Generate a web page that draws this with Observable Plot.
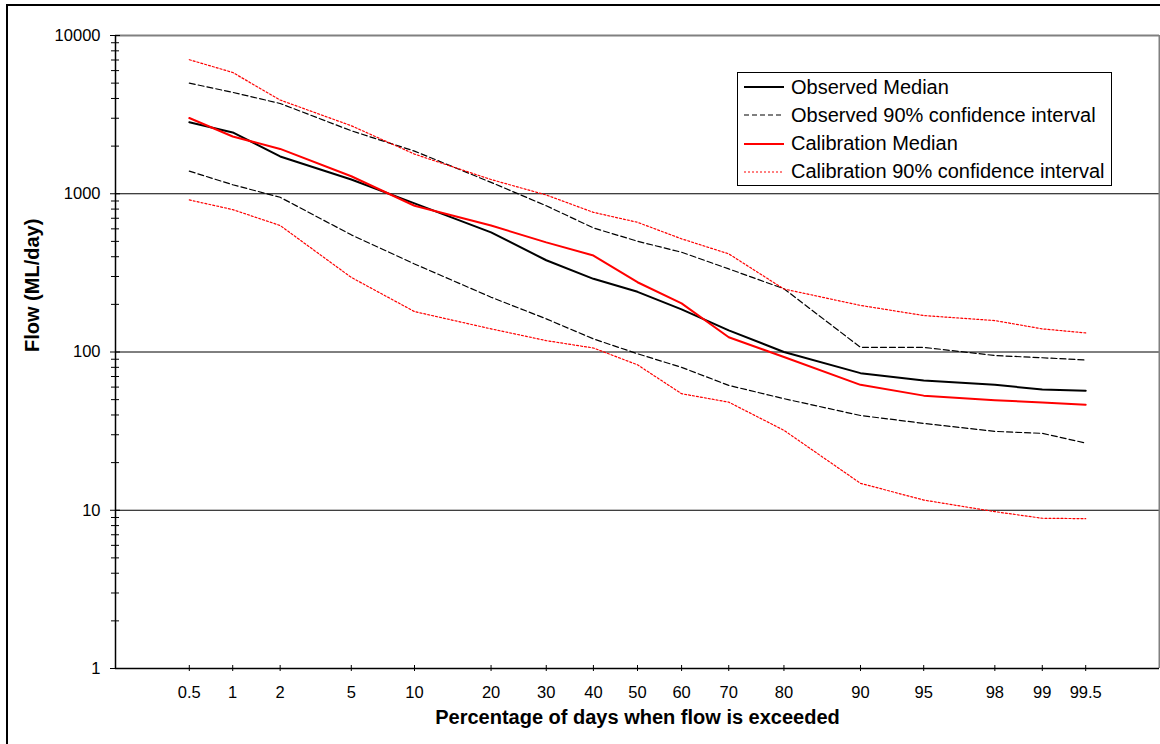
<!DOCTYPE html>
<html>
<head>
<meta charset="utf-8">
<script src="https://cdn.jsdelivr.net/npm/d3@7"></script>
<script src="https://cdn.jsdelivr.net/npm/@observablehq/plot@0.6"></script>
<style>
  html, body { margin: 0; padding: 0; background: #fff; }
  #wrap { position: relative; width: 1160px; height: 744px; overflow: hidden;
          font-family: "Liberation Sans", Arial, sans-serif; }
  #wrap > #chart svg { position: absolute; left: 0; top: 0; }
  #frame { position: absolute; left: 6px; top: 4px; width: 1200px; height: 800px;
           border-left: 2px solid #000; border-top: 2px solid #000; pointer-events: none; }
  #legend { position: absolute; left: 737px; top: 72px; width: 373px; height: 112px;
            border: 1px solid #000; background: #fff; font-size: 20px; color: #000; }
  #legend .row { position: absolute; left: 0; height: 28px; display: flex; align-items: center; white-space: nowrap; }
  #legend svg { display: block; margin-left: 6px; margin-right: 7px; }
</style>
</head>
<body>
<div id="wrap">
  <div id="chart"></div>
  <div id="legend"></div>
  <div id="frame"></div>
</div>
<script>
// Flow duration curve: percentage of days when flow is exceeded (probability axis)
const exceedance = [0.5, 1, 2, 5, 10, 20, 30, 40, 50, 60, 70, 80, 90, 95, 98, 99, 99.5];
const exceedanceLabels = ["0.5", "1", "2", "5", "10", "20", "30", "40", "50", "60", "70", "80", "90", "95", "98", "99", "99.5"];

// Flow (ML/day) at each exceedance percentage
const observedMedian = [2830, 2440, 1720, 1230, 870, 570, 380, 290, 240, 186, 137, 100, 73.5, 66, 62, 58, 57];
const observedLower  = [1390, 1140, 950, 550, 360, 222, 162, 121, 97.5, 80, 61.5, 50.7, 39.7, 35.4, 31.5, 30.6, 26.6];
const observedUpper  = [5000, 4370, 3720, 2500, 1860, 1180, 840, 608, 501, 427, 335, 251, 107, 107, 95, 92, 89];
const calibMedian    = [3010, 2300, 1920, 1290, 840, 630, 493, 407, 276, 203, 124, 93, 62, 53, 49.5, 48, 46.4];
const calibLower     = [914, 794, 630, 296, 180, 140, 118, 106, 83, 54.5, 48.2, 32, 14.8, 11.6, 9.8, 8.9, 8.85];
const calibUpper     = [7030, 5840, 3910, 2690, 1780, 1230, 982, 763, 660, 519, 417, 250, 197, 170, 158, 140, 132];

const yMajorTicks = [1, 10, 100, 1000, 10000];
const yGridLines = [10, 100, 1000];

// Inverse of the standard normal CDF (Acklam's rational approximation)
function probit(p) {
  const a = [-3.969683028665376e+01, 2.209460984245205e+02, -2.759285104469687e+02, 1.383577518672690e+02, -3.066479806614716e+01, 2.506628277459239e+00];
  const b = [-5.447609879822406e+01, 1.615858368580409e+02, -1.556989798598866e+02, 6.680131188771972e+01, -1.328068155288572e+01];
  const c = [-7.784894002430293e-03, -3.223964580411365e-01, -2.400758277161838e+00, -2.549671875485250e+00, 4.374664141464968e+00, 2.938163982698783e+00];
  const d = [7.784695709041462e-03, 3.224671290700398e-01, 2.445134137142996e+00, 3.754408661907416e+00];
  const pl = 0.02425, ph = 1 - pl;
  if (p < pl) {
    const q = Math.sqrt(-2 * Math.log(p));
    return (((((c[0]*q + c[1])*q + c[2])*q + c[3])*q + c[4])*q + c[5]) / ((((d[0]*q + d[1])*q + d[2])*q + d[3])*q + 1);
  }
  if (p <= ph) {
    const q = p - 0.5, r = q * q;
    return (((((a[0]*r + a[1])*r + a[2])*r + a[3])*r + a[4])*r + a[5])*q / (((((b[0]*r + b[1])*r + b[2])*r + b[3])*r + b[4])*r + 1);
  }
  const q = Math.sqrt(-2 * Math.log(1 - p));
  return -(((((c[0]*q + c[1])*q + c[2])*q + c[3])*q + c[4])*q + c[5]) / ((((d[0]*q + d[1])*q + d[2])*q + d[3])*q + 1);
}
const zOf = pct => probit(pct / 100);

// Log minor ticks 2..9 in each decade
const yMinorTicks = d3.range(0, 4).flatMap(k => d3.range(2, 10).map(m => m * 10 ** k));

const series = [
  {name: "Observed Median", values: observedMedian, stroke: "#000000", width: 2, dash: null, legend: true},
  {name: "Observed 90% confidence interval", values: observedUpper, stroke: "#000000", width: 1.2, dash: "6,3", legend: true},
  {name: "Observed 90% confidence interval", values: observedLower, stroke: "#000000", width: 1.2, dash: "6,3", legend: false},
  {name: "Calibration Median", values: calibMedian, stroke: "#ff0000", width: 2, dash: null, legend: true},
  {name: "Calibration 90% confidence interval", values: calibUpper, stroke: "#ff0000", width: 1.2, dash: "2,2", legend: true},
  {name: "Calibration 90% confidence interval", values: calibLower, stroke: "#ff0000", width: 1.2, dash: "2,2", legend: false}
];

(function () {
  const W = 1160, H = 744;
  const xLeft = 115, xRight = 1159, yTop = 35, yBottom = 668;
  const frameW = xRight - xLeft, frameH = yBottom - yTop;

  const lineMarks = series.map(s =>
    Plot.line(exceedance, {
      x: d => zOf(d),
      y: (d, i) => s.values[i],
      stroke: s.stroke,
      strokeWidth: s.width,
      strokeDasharray: s.dash,
      strokeLinejoin: "round"
    })
  );

  const chart = Plot.plot({
    width: W,
    height: H,
    marginLeft: xLeft,
    marginRight: W - xRight,
    marginTop: yTop,
    marginBottom: H - yBottom,
    style: {fontFamily: "'Liberation Sans', Arial, sans-serif", fontSize: "16.5px", color: "#000", background: "transparent"},
    x: {type: "linear", domain: [-3, 3], range: [xLeft, xRight], axis: null},
    y: {type: "log", domain: [1, 10000], range: [yBottom, yTop], axis: null},
    marks: [
      Plot.ruleY(yGridLines, {stroke: "#000", strokeWidth: 1}),
      Plot.ruleY([10000], {stroke: "#808080", strokeWidth: 2}),
      Plot.ruleX([3], {stroke: "#808080", strokeWidth: 2}),
      ...lineMarks,
      Plot.ruleX([-3], {stroke: "#000", strokeWidth: 1.5}),
      Plot.ruleY([1], {stroke: "#000", strokeWidth: 1.5}),
      Plot.tickY(yMinorTicks, {y: d => d, stroke: "#000", insetLeft: -4, insetRight: frameW - 4}),
      Plot.tickY(yMajorTicks, {y: d => d, stroke: "#000", insetLeft: -5, insetRight: frameW - 5}),
      Plot.tickX(exceedance, {x: d => zOf(d), stroke: "#000", insetTop: frameH - 3, insetBottom: -3}),
      Plot.axisY(yMajorTicks, {tickSize: 0, tickPadding: 15, tickFormat: d => String(d), label: null, fill: "#000"}),
      Plot.axisX(exceedance.map(zOf), {
        tickSize: 0, tickPadding: 18, label: null, fill: "#000",
        tickFormat: v => exceedanceLabels[exceedance.findIndex(p => Math.abs(zOf(p) - v) < 1e-9)]
      }),
      Plot.text(["Percentage of days when flow is exceeded"], {
        frameAnchor: "bottom", dy: 55, text: d => d, fontWeight: "bold", fontSize: 20, fill: "#000"
      }),
      Plot.text(["Flow (ML/day)"], {
        frameAnchor: "left", dx: -83, rotate: -90, text: d => d, fontWeight: "bold", fontSize: 20, fill: "#000"
      })
    ]
  });
  document.getElementById("chart").append(chart);

  // Legend
  const legend = d3.select("#legend");
  series.filter(s => s.legend).forEach((s, i) => {
    const row = legend.append("div").attr("class", "row").style("top", `${i * 28.3}px`);
    const svg = row.append("svg").attr("width", 40).attr("height", 10);
    svg.append("line")
      .attr("x1", 0).attr("x2", 40).attr("y1", 5).attr("y2", 5)
      .attr("stroke", s.stroke)
      .attr("stroke-width", s.dash ? 1.2 : 2)
      .attr("stroke-dasharray", s.dash ? (s.dash === "2,2" ? "2,2" : "5,3") : null);
    row.append("span").text(s.name);
  });
})();
</script>
</body>
</html>
